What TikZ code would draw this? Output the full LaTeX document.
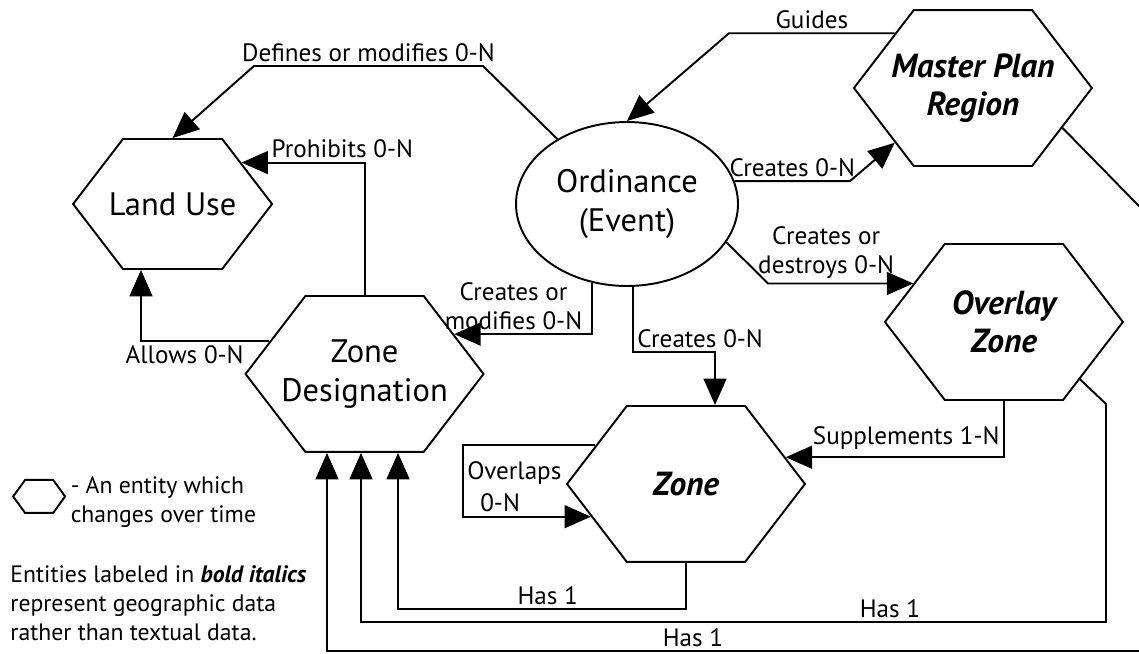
\documentclass[tikz,border=0pt]{standalone}
\usepackage{fontspec}
\setmainfont{PT Sans}
\usetikzlibrary{arrows.meta, shapes.geometric, shapes.symbols, positioning}

\newcommand{\lblfont}{\fontsize{14.3}{16.5}\selectfont}
\newcommand{\keyfont}{\fontsize{13.5}{16.5}\selectfont}
\newcommand{\entfont}{\fontsize{18.5}{22}\selectfont}

\begin{document}
\begin{tikzpicture}[
    x = 0.02cm, y = -0.02cm, % one unit is one pixel of the sketch
    > = {Triangle[length=15pt, width=13pt]}, % arrow head style
    line width = 1.1pt, % line style
    font = \lblfont
  ]

  \tikzstyle{every node}=[inner sep = 2pt]
  \tikzstyle{hex}=[draw, signal, signal to = west and east,
    signal pointer angle = 105, minimum width = 4.76cm,
    minimum height = 3.12cm, inner sep = 0pt]
  \tikzstyle{plain}=[font = \entfont, align = center]
  \tikzstyle{geo}=[font = \fontsize{19}{22}\selectfont\bfseries\itshape,
    align = center]

  \path[use as bounding box, clip] (0,0) rectangle (1139,653);

  % entities
  \node (ord) [draw, ellipse, inner sep = 0pt, minimum width = 4.44cm,
    minimum height = 3.28cm, plain] at (627,204) {Ordinance\\(Event)};
  \node (lu) [hex, minimum width = 3.98cm, minimum height = 2.6cm,
    node distance = 9.09cm, left of = ord,
    label = {[plain]center:Land Use}] {};
  \node (zd) [hex, node distance = 3.84cm, right of = lu, yshift = -3.4cm,
    label = {[plain]center:Zone\\Designation}] {};
  \node (zn) [hex, node distance = 6.43cm, right of = zd, yshift = -2.2cm,
    label = {[geo]center:Zone}] {};
  \node (mpr) [hex, node distance = 6.92cm, right of = ord, yshift = 2.32cm,
    label = {[geo]center:Master Plan\\Region}] {};
  \node (oz) [hex, node distance = 7.54cm, right of = ord, yshift = -2.36cm,
    label = {[geo]center:Overlay\\Zone}] {};

  % key
  \node (key) [hex, minimum width = 1.04cm, minimum height = 0.66cm,
    signal pointer angle = 108, node distance = 5.85cm, below of = lu,
    xshift = -2.67cm] {};
  \node (keytext) [anchor = west, align = left, yshift = -3pt,
    font = \keyfont] at (key.east) {- An entity which\\changes over time};
  \node (note) [anchor = west, align = left, font = \keyfont] at (6,603)
    {Entities labeled in \textbf{\textit{bold italics}}\\represent geographic data\\rather than textual data.};

  % connectors
  \draw[->] (ord.137) -- (483,66) -- node[above] {Defines or modifies 0-N}
    (254,66) -- (lu.north);
  \draw[->] (mpr.145) -- node[above] {Guides} (mpr.145 -| 729,0)
    -- (ord.north);
  \draw[->] (ord.12) -- node[above] {Creates 0-N} (ord.12 -| 850,0)
    -- (mpr.215);
  \draw[->] (ord.339) -- (oz.157 -| 768,0) -- node[above, pos = 0.4,
    align = center] {Creates or\\destroys 0-N} (oz.157);
  \draw[->] (zd.north) |- node[pos = 0.59, above] {Prohibits 0-N} (lu.31);
  \draw[->] (zd.161) -| node[pos = 0.33, below] {Allows 0-N}
    (lu.south -| 141,0);
  \draw[->] (ord.246) |- node[pos = 0.5, above left, align = center,
    xshift = -3pt] {Creates or\\modifies 0-N} (zd.24);
  \draw[->] (ord.274) |- node[pos = 0.5, above right] {Creates 0-N}
    (715,352) -- (zn.north -| 715,0);
  \draw[->] (oz.south) |- node[pos = 0.5, above left, yshift = 2pt]
    {Supplements 1-N} (zn.15);
  \draw[->] (zn.157) -- (zn.157 -| 463,0) -- node[pos = 0.39, right]
    {Overlaps} (zn.199 -| 463,0) -- node[pos = 0.29, above] {0-N} (zn.199);
  \draw[->] (zn.south) |- node[pos = 0.74, above] {Has 1} (398,609)
    -- (zd.south -| 398,0);
  \draw[->] (oz.323) -- (1106,404) -- (1106,622) -- node[pos = 0.29, above]
    {Has 1} (361,622) -- (zd.south -| 361,0);
  \draw[->] (mpr.336) -- (1180,248) -- (1180,651) -- node[pos = 0.571,
    above] {Has 1} (327,651) -- (zd.south -| 327,0);

\end{tikzpicture}
\end{document}
